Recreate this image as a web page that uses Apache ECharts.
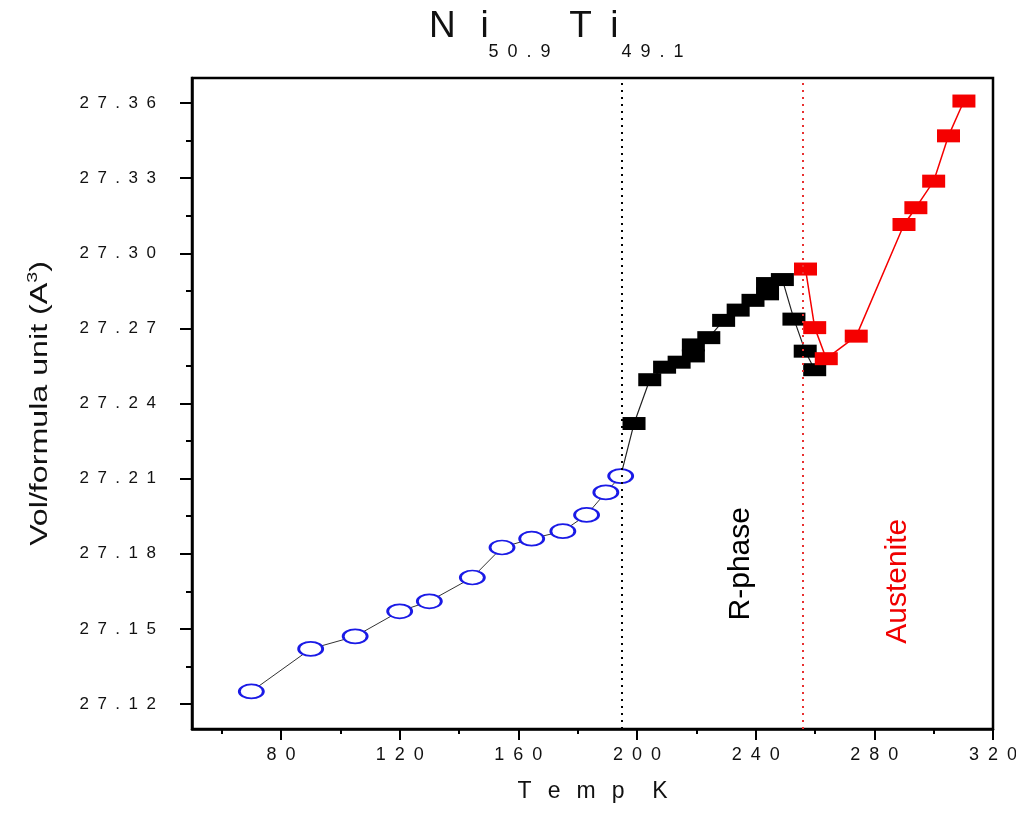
<!DOCTYPE html>
<html>
<head>
<meta charset="utf-8">
<script src="https://cdn.jsdelivr.net/npm/echarts@6/dist/echarts.min.js"></script>
<style>
  html, body { margin: 0; background: #fff; }
  #chart { width: 1016px; height: 816px; }
</style>
</head>
<body>
<div id="chart"></div>
<script>
// martensite (blue open ellipses)
const martTemp = [70, 90, 105, 120, 130, 144.5, 154.5, 164.5, 175, 183, 189.5, 194.5];
const martVol = [27.125, 27.142, 27.147, 27.157, 27.161, 27.1705, 27.1825, 27.186, 27.189, 27.1955, 27.2045, 27.211];

// R-phase (black squares)
const rTemp = [199, 204.3, 209.3, 214.2, 219, 219, 224.2, 229.2, 234.1, 239.1, 244, 244, 249, 252.9, 256.7, 259.9];
const rVol = [27.232, 27.2495, 27.2545, 27.2565, 27.259, 27.2634, 27.2663, 27.2732, 27.2773, 27.2812, 27.2838, 27.2879, 27.2895, 27.2737, 27.2609, 27.2535];

// austenite (red squares)
const ausTemp = [256.8, 259.9, 263.8, 273.9, 290, 294, 300, 305, 310.2];
const ausVol = [27.2937, 27.2703, 27.2579, 27.2669, 27.3115, 27.3182, 27.3288, 27.3469, 27.3608];

// transition temperatures (dotted lines)
const rPhaseStart = 195;
const austeniteStart = 256;

// axes
const xMajorTicks = [80, 120, 160, 200, 240, 280, 320];
const xMinorTicks = [60, 100, 140, 180, 220, 260, 300];
const yMajorTicks = [27.12, 27.15, 27.18, 27.21, 27.24, 27.27, 27.30, 27.33, 27.36];
const yMinorTicks = [27.135, 27.165, 27.195, 27.225, 27.255, 27.285, 27.315, 27.345];

const FONT = "Liberation Sans";
const EN = "\u2002";
const spaced = (s) => s.split("").join(EN);
const pairs = (xs, ys) => xs.map((x, i) => [x, ys[i]]);

const chart = echarts.init(document.getElementById("chart"));

const gridBox = { left: 192, top: 78, right: 23, bottom: 87, outerBoundsMode: "none" };

const option = {
  backgroundColor: "#fff",
  animation: false,
  title: {
    left: 424,
    top: 3,
    text:
      "{m|N" + EN + "\u2006i}{s|" + spaced("50.9") + "}" +
      "{m|" + EN + "T" + EN + "i}{s|\u2006" + spaced("49.1") + "}",
    textStyle: {
      fontWeight: "normal",
      rich: {
        m: { fontFamily: FONT, fontSize: 37, fontWeight: "normal", color: "#111", verticalAlign: "bottom", padding: [0, 0, 16, 0] },
        s: { fontFamily: FONT, fontSize: 18, fontWeight: "normal", color: "#111", verticalAlign: "bottom" },
      },
    },
  },
  grid: [
    { ...gridBox, show: true, borderColor: "#000", borderWidth: 2.5 },
    { ...gridBox, show: false },
  ],
  xAxis: [
    {
      type: "value",
      gridIndex: 0,
      min: 50,
      max: 320,
      name: "T\u2002\u2009e\u2002\u2009m\u2002\u2009p\u2002\u2009\u2002K",
      nameLocation: "middle",
      nameGap: 51,
      nameTextStyle: { fontFamily: FONT, fontSize: 23, color: "#111" },
      axisLine: { lineStyle: { color: "#000", width: 2.5 } },
      axisTick: { customValues: xMajorTicks, length: 11, lineStyle: { color: "#000", width: 2 } },
      axisLabel: {
        customValues: xMajorTicks,
        margin: 17,
        fontFamily: FONT,
        fontSize: 18,
        color: "#111",
        formatter: (v) => spaced(String(v)),
      },
      splitLine: { show: false },
    },
    {
      type: "value",
      gridIndex: 1,
      min: 50,
      max: 320,
      axisLine: { show: false },
      axisTick: { customValues: xMinorTicks, length: 5, lineStyle: { color: "#000", width: 2 } },
      axisLabel: { show: false },
      splitLine: { show: false },
    },
  ],
  yAxis: [
    {
      type: "value",
      gridIndex: 0,
      min: 27.11,
      max: 27.37,
      axisLine: { lineStyle: { color: "#000", width: 2.5 } },
      axisTick: { customValues: yMajorTicks, length: 12, lineStyle: { color: "#000", width: 2 } },
      axisLabel: {
        customValues: yMajorTicks,
        margin: 36,
        fontFamily: FONT,
        fontSize: 17,
        color: "#111",
        formatter: (v) => spaced(v.toFixed(2)),
      },
      splitLine: { show: false },
    },
    {
      type: "value",
      gridIndex: 1,
      min: 27.11,
      max: 27.37,
      axisLine: { show: false },
      axisTick: { customValues: yMinorTicks, length: 6, lineStyle: { color: "#000", width: 2 } },
      axisLabel: { show: false },
      splitLine: { show: false },
    },
  ],
  series: [
    {
      name: "R-phase",
      type: "line",
      xAxisIndex: 0,
      yAxisIndex: 0,
      z: 2,
      data: [
        { value: [martTemp[martTemp.length - 1], martVol[martVol.length - 1]], symbol: "none" },
        ...pairs(rTemp, rVol),
      ],
      symbol: "rect",
      symbolSize: [23, 13],
      itemStyle: { color: "#000" },
      lineStyle: { color: "#222", width: 1.2 },
      markLine: {
        silent: true,
        symbol: "none",
        label: { show: false },
        lineStyle: { color: "#000", type: [2, 5], width: 2 },
        data: [{ xAxis: rPhaseStart }],
      },
    },
    {
      name: "Martensite",
      type: "line",
      xAxisIndex: 0,
      yAxisIndex: 0,
      z: 3,
      data: pairs(martTemp, martVol),
      symbol: "path://M0,7 A12,7 0 1,1 24,7 A12,7 0 1,1 0,7 Z",
      symbolSize: [24, 14],
      showAllSymbol: true,
      itemStyle: { color: "#fff", borderColor: "#1a1ae6", borderWidth: 2.2 },
      lineStyle: { color: "#333", width: 1 },
    },
    {
      name: "Austenite",
      type: "line",
      xAxisIndex: 0,
      yAxisIndex: 0,
      z: 4,
      data: pairs(ausTemp, ausVol),
      symbol: "rect",
      symbolSize: [23, 13],
      itemStyle: { color: "#f50000" },
      lineStyle: { color: "#f50000", width: 1.5 },
      markLine: {
        silent: true,
        symbol: "none",
        label: { show: false },
        lineStyle: { color: "#e83030", type: [2, 5], width: 2 },
        data: [{ xAxis: austeniteStart }],
      },
    },
  ],
};

chart.setOption(option);

// phase labels placed in data space, y axis title drawn stretched like the original
const rLabelPos = chart.convertToPixel({ gridIndex: 0 }, [235, 27.176]);
const aLabelPos = chart.convertToPixel({ gridIndex: 0 }, [288, 27.169]);
const yMid = chart.convertToPixel({ yAxisIndex: 0 }, 27.24);
chart.setOption({
  graphic: [
    {
      type: "text",
      x: 41,
      y: yMid,
      rotation: Math.PI / 2,
      scaleX: 1.4,
      style: {
        text: "Vol/formula unit (A{sup|3})",
        fontFamily: FONT,
        fontSize: 23,
        fill: "#111",
        align: "center",
        verticalAlign: "middle",
        rich: { sup: { fontFamily: FONT, fontSize: 14, fill: "#111", padding: [0, 0, 16, 0] } },
      },
    },
    {
      type: "text",
      x: rLabelPos[0],
      y: rLabelPos[1],
      rotation: Math.PI / 2,
      style: { text: "R-phase", fontFamily: FONT, fontSize: 30, fill: "#000", align: "center", verticalAlign: "middle" },
    },
    {
      type: "text",
      x: aLabelPos[0],
      y: aLabelPos[1],
      rotation: Math.PI / 2,
      style: { text: "Austenite", fontFamily: FONT, fontSize: 30, fill: "#f00000", align: "center", verticalAlign: "middle" },
    },
  ],
});
</script>
</body>
</html>
